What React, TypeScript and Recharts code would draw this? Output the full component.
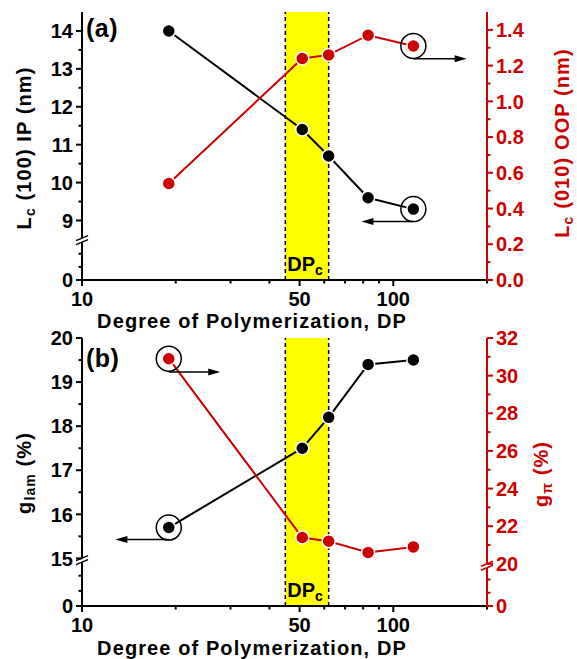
import React from "react"
import {
  LineChart,
  Line,
  XAxis,
  YAxis,
  ReferenceArea,
  ReferenceLine,
  ReferenceDot,
  Customized,
} from "recharts"

const FONT = "'Liberation Sans', Arial, Helvetica, sans-serif"
const RED = "#CC0000"
const BLACK = "#000000"
const YELLOW = "#FFFF00"

// degree of polymerization of the five samples
const DP = [19, 51, 62, 83, 116]
// panel (a)
const LC_IP = [14.0, 11.4, 10.7, 9.6, 9.3]
const LC_OOP = [0.54, 1.24, 1.26, 1.37, 1.31]
// panel (b)
const G_LAM = [15.7, 17.5, 18.2, 19.4, 19.5]
const G_PI = [30.9, 21.4, 21.2, 20.6, 20.9]

const DPC_RANGE = [45, 62]

const X_DOMAIN = [10, 200]
const X_MAJOR = [10, 50, 100]
const X_MINOR = [20, 30, 40, 60, 70, 80, 90, 200]

const A_LEFT_MAJOR = [9, 10, 11, 12, 13, 14]
const A_LEFT_MINOR = [9.5, 10.5, 11.5, 12.5, 13.5]
const A_RIGHT_MAJOR = [0, 0.2, 0.4, 0.6, 0.8, 1.0, 1.2, 1.4]
const A_RIGHT_MINOR = [0.1, 0.3, 0.5, 0.7, 0.9, 1.1, 1.3]
const B_LEFT_MAJOR = [15, 16, 17, 18, 19, 20]
const B_LEFT_MINOR = [15.5, 16.5, 17.5, 18.5, 19.5]
const B_RIGHT_MAJOR = [20, 22, 24, 26, 28, 30, 32]
const B_RIGHT_MINOR = [21, 23, 25, 27, 29, 31]

const dataA = DP.map((dp, i) => ({ dp, ip: LC_IP[i], oop: LC_OOP[i] }))
const dataB = DP.map((dp, i) => ({ dp, lam: G_LAM[i], pi: G_PI[i] }))

// broken axis: the lower part (from 0) is squeezed under the break
type AxisSpec = {
  side: "left" | "right"
  color: string
  major: number[]
  minor: number[]
  top: number
  zero?: number
  brk?: number
  fmt: (v: number) => string
}

const axisTicks = (s: AxisSpec) => {
  const t = [...s.major, ...s.minor]
  if (s.zero !== undefined && s.brk !== undefined) {
    const step = (s.brk - s.zero) / 3
    t.push(s.zero, s.zero + step, s.zero + 2 * step, s.brk)
  }
  return t.sort((a, b) => a - b)
}

const axisDomain = (s: AxisSpec) => [s.zero !== undefined ? s.zero : s.major[0], s.top]

const BreakMark = ({ x, y, color }: { x: number; y: number; color: string }) => (
  <g>
    <polygon points={`${x - 6},${y} ${x + 6},${y - 5} ${x + 6},${y - 1} ${x - 6},${y + 4}`} fill="#fff" />
    <line x1={x - 6} y1={y} x2={x + 6} y2={y - 5} stroke={color} strokeWidth={1.5} />
    <line x1={x - 6} y1={y + 4} x2={x + 6} y2={y - 1} stroke={color} strokeWidth={1.5} />
  </g>
)

const makeYTick = (s: AxisSpec) => (props: any) => {
  const { x, y, payload } = props
  const v = payload.value
  const dir = s.side === "left" ? -1 : 1
  if (s.brk !== undefined && v === s.brk) return <BreakMark x={x} y={y} color={s.color} />
  const isZero = s.zero !== undefined && v === s.zero
  const isMajor = isZero || s.major.includes(v)
  return (
    <g>
      <line x1={x} x2={x + dir * (isMajor ? 6 : 3.5)} y1={y} y2={y} stroke={s.color} strokeWidth={2} />
      {isMajor && (
        <text
          x={x + dir * 9}
          y={y}
          dy="0.36em"
          textAnchor={dir < 0 ? "end" : "start"}
          fill={s.color}
          fontSize={20}
          fontWeight="bold"
          fontFamily={FONT}
        >
          {s.fmt(isZero ? 0 : v)}
        </text>
      )}
    </g>
  )
}

const makeXTick = (labels: boolean) => (props: any) => {
  const { x, y, payload } = props
  const v = payload.value
  const major = X_MAJOR.includes(v)
  return (
    <g>
      <line x1={x} x2={x} y1={y} y2={y + (major ? 6 : 3.5)} stroke={BLACK} strokeWidth={2} />
      {labels && major && (
        <text x={x} y={y + 26} textAnchor="middle" fontSize={20} fontWeight="bold" fontFamily={FONT}>
          {v}
        </text>
      )}
    </g>
  )
}

const Arrow = (props: any) => {
  const { x1, y1, x2, y2 } = props
  const dir = Math.sign(x2 - x1)
  return (
    <g>
      <line x1={x1} y1={y1} x2={x2 - dir * 11} y2={y2} stroke={BLACK} strokeWidth={1.5} />
      <polygon points={`${x2},${y2} ${x2 - dir * 12},${y2 - 3.5} ${x2 - dir * 12},${y2 + 3.5}`} fill={BLACK} />
    </g>
  )
}

const DpcLabel = (props: any) => {
  const { x, y, width, height } = props.viewBox
  return (
    <text x={x + width / 2 - 2} y={y + height - 9} textAnchor="middle" fontSize={20} fontWeight="bold" fontFamily={FONT}>
      DP
      <tspan fontSize={14} dy={4}>c</tspan>
    </text>
  )
}

const textStyle = { fontFamily: FONT, fontWeight: "bold" as const, fontSize: 20, letterSpacing: 1.1 }

const VTitle = ({ x, y, color, main, sub, rest }: any) => (
  <text x={x} y={y} transform={`rotate(-90, ${x}, ${y})`} textAnchor="middle" fill={color} style={textStyle}>
    {main}
    <tspan fontSize={14} dy={4}>{sub}</tspan>
    <tspan dy={-4}>{rest}</tspan>
  </text>
)

const Panel = ({
  data,
  left,
  right,
  leftKey,
  rightKey,
  tag,
  leftTitle,
  rightTitle,
  titleY,
  circles,
}: any) => (
  <LineChart width={577} height={333} data={data} margin={{ top: 12, right: 0, bottom: 0, left: 0 }}>
    <XAxis
      dataKey="dp"
      type="number"
      scale="log"
      domain={X_DOMAIN}
      allowDataOverflow
      ticks={[...X_MAJOR, ...X_MINOR]}
      interval={0}
      height={53}
      tickSize={0}
      tickMargin={0}
      tickLine={false}
      tick={makeXTick(true)}
      axisLine={{ stroke: BLACK, strokeWidth: 2 }}
    />
    <XAxis
      xAxisId="top"
      orientation="top"
      dataKey="dp"
      type="number"
      scale="log"
      domain={X_DOMAIN}
      allowDataOverflow
      ticks={[...X_MAJOR, ...X_MINOR]}
      interval={0}
      height={0}
      tickSize={0}
      tickMargin={0}
      tickLine={false}
      tick={makeXTick(false)}
      axisLine={{ stroke: BLACK, strokeWidth: 2 }}
    />
    <YAxis
      yAxisId="l"
      orientation="left"
      type="number"
      width={82}
      domain={axisDomain(left)}
      allowDataOverflow
      ticks={axisTicks(left)}
      interval={0}
      tickSize={0}
      tickMargin={0}
      tickLine={false}
      tick={makeYTick(left)}
      axisLine={{ stroke: BLACK, strokeWidth: 2 }}
    />
    <YAxis
      yAxisId="r"
      orientation="right"
      type="number"
      width={90}
      domain={axisDomain(right)}
      allowDataOverflow
      ticks={axisTicks(right)}
      interval={0}
      tickSize={0}
      tickMargin={0}
      tickLine={false}
      tick={makeYTick(right)}
      axisLine={{ stroke: RED, strokeWidth: 2 }}
    />
    <ReferenceArea
      yAxisId="l"
      x1={DPC_RANGE[0]}
      x2={DPC_RANGE[1]}
      fill={YELLOW}
      fillOpacity={1}
      stroke="none"
      label={<DpcLabel />}
    />
    {DPC_RANGE.map((v) => (
      <ReferenceLine key={v} yAxisId="l" x={v} stroke={BLACK} strokeWidth={1.5} strokeDasharray="4 3" />
    ))}
    <Line
      yAxisId="l"
      dataKey={leftKey}
      stroke={BLACK}
      strokeWidth={2}
      dot={{ r: 6.5, fill: BLACK, stroke: "#fff", strokeWidth: 1.5 }}
      isAnimationActive={false}
    />
    <Line
      yAxisId="r"
      dataKey={rightKey}
      stroke={RED}
      strokeWidth={2}
      dot={{ r: 6.5, fill: RED, stroke: "#fff", strokeWidth: 1.5 }}
      isAnimationActive={false}
    />
    {circles.map((c: any, i: number) => (
      <ReferenceDot key={`c${i}`} yAxisId={c.axis} x={c.x} y={c.y} r={12.5} fill="none" stroke={BLACK} strokeWidth={1.5} />
    ))}
    {circles.map((c: any, i: number) => (
      <ReferenceLine
        key={`a${i}`}
        yAxisId={c.axis}
        segment={[
          { x: c.x, y: c.arrowY },
          { x: c.arrowTo, y: c.arrowY },
        ]}
        shape={<Arrow />}
      />
    ))}
    <Customized
      component={
        <g>
          <text x={86} y={titleY.tag} style={{ ...textStyle, fontSize: 25, letterSpacing: 0.5 }}>
            {tag}
          </text>
          <VTitle x={31} y={titleY.left} color={BLACK} {...leftTitle} />
          <VTitle x={rightTitle.x} y={titleY.right} color={RED} {...rightTitle} />
          <text x={252} y={titleY.x} textAnchor="middle" style={textStyle}>
            Degree of Polymerization, DP
          </text>
        </g>
      }
    />
  </LineChart>
)

const leftA: AxisSpec = {
  side: "left", color: BLACK, major: A_LEFT_MAJOR, minor: A_LEFT_MINOR, top: 14.5, zero: 7.43, brk: 8.47,
  fmt: (v) => String(v),
}
const rightA: AxisSpec = {
  side: "right", color: RED, major: A_RIGHT_MAJOR, minor: A_RIGHT_MINOR, top: 1.5,
  fmt: (v) => v.toFixed(1),
}
const leftB: AxisSpec = {
  side: "left", color: BLACK, major: B_LEFT_MAJOR, minor: B_LEFT_MINOR, top: 20, zero: 13.92, brk: 14.95,
  fmt: (v) => String(v),
}
const rightB: AxisSpec = {
  side: "right", color: RED, major: B_RIGHT_MAJOR, minor: B_RIGHT_MINOR, top: 32, zero: 17.76, brk: 19.87,
  fmt: (v) => String(v),
}

export default function App() {
  return (
    <div style={{ position: "absolute", left: 0, top: 0, width: 577, height: 659, background: "#fff", overflow: "hidden" }}>
      <div style={{ position: "absolute", left: 0, top: 0 }}>
        <Panel
          data={dataA}
          left={leftA}
          right={rightA}
          leftKey="ip"
          rightKey="oop"
          tag="(a)"
          leftTitle={{ main: "L", sub: "c", rest: " (100) IP (nm)" }}
          rightTitle={{ x: 569, main: "L", sub: "c", rest: " (010) OOP (nm)" }}
          titleY={{ tag: 37, left: 148, right: 143, x: 328 }}
          circles={[
            { axis: "r", x: DP[4], y: LC_OOP[4], arrowY: 1.238, arrowTo: 172 },
            { axis: "l", x: DP[4], y: LC_IP[4], arrowY: 8.97, arrowTo: 79 },
          ]}
        />
      </div>
      <div style={{ position: "absolute", left: 0, top: 326 }}>
        <Panel
          data={dataB}
          left={leftB}
          right={rightB}
          leftKey="lam"
          rightKey="pi"
          tag="(b)"
          leftTitle={{ main: "g", sub: "lam", rest: " (%)" }}
          rightTitle={{ x: 548, main: "g", sub: "π", rest: " (%)" }}
          titleY={{ tag: 41, left: 147, right: 148, x: 328.5 }}
          circles={[
            { axis: "r", x: DP[0], y: G_PI[0], arrowY: 30.2, arrowTo: 27.8 },
            { axis: "l", x: DP[0], y: G_LAM[0], arrowY: 15.43, arrowTo: 12.8 },
          ]}
        />
      </div>
    </div>
  )
}
